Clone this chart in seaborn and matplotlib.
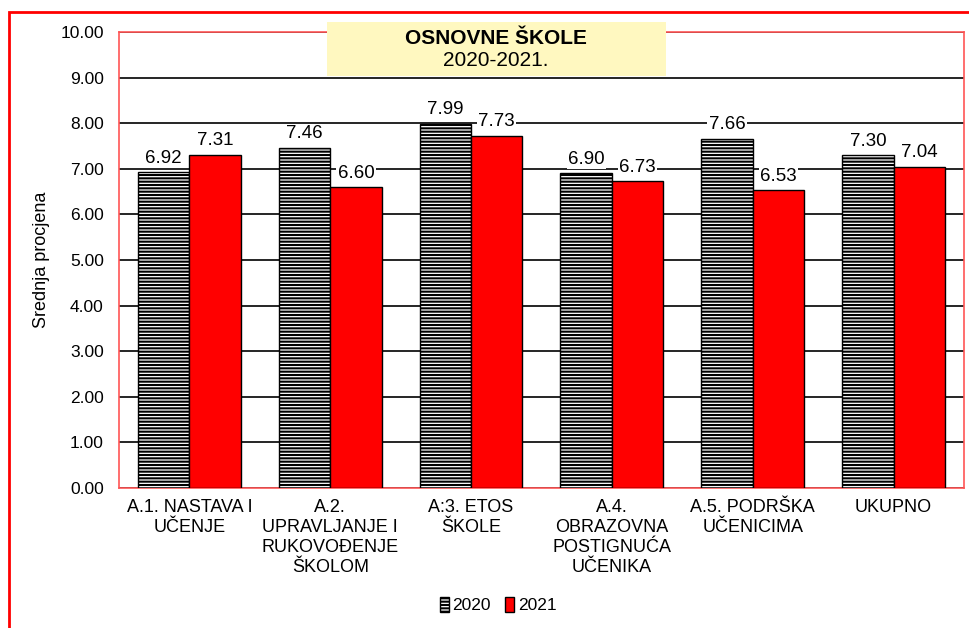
import matplotlib
matplotlib.use("Agg")
import matplotlib.pyplot as plt
from matplotlib.patches import Rectangle, Patch
import pandas as pd
import seaborn as sns

categories = [
    "A.1. NASTAVA I\nUČENJE",
    "A.2.\nUPRAVLJANJE I\nRUKOVOĐENJE\nŠKOLOM",
    "A:3. ETOS\nŠKOLE",
    "A.4.\nOBRAZOVNA\nPOSTIGNUĆA\nUČENIKA",
    "A.5. PODRŠKA\nUČENICIMA",
    "UKUPNO",
]
values_2020 = [6.92, 7.46, 7.99, 6.90, 7.66, 7.30]
values_2021 = [7.31, 6.60, 7.73, 6.73, 6.53, 7.04]
years = ["2020", "2021"]
y_ticks = [0, 1, 2, 3, 4, 5, 6, 7, 8, 9, 10]

df = pd.DataFrame({
    "kategorija": categories * 2,
    "godina": [years[0]] * len(categories) + [years[1]] * len(categories),
    "ocjena": values_2020 + values_2021,
})

sns.set_theme(style="white")
plt.rcParams["font.family"] = ["Liberation Sans", "DejaVu Sans"]
plt.rcParams["hatch.linewidth"] = 1.5
plt.rcParams["text.color"] = "black"
plt.rcParams["xtick.color"] = "black"
plt.rcParams["ytick.color"] = "black"
plt.rcParams["axes.labelcolor"] = "black"

RED = "#ff0000"
SPINE_RED = "#ff5555"

fig = plt.figure(figsize=(9.69, 6.28), dpi=100)
ax = fig.add_axes([0.1228, 0.2229, 0.8720, 0.7261])

sns.barplot(data=df, x="kategorija", y="ocjena", hue="godina",
            palette={"2020": "white", "2021": RED}, width=0.73, saturation=1,
            edgecolor="black", linewidth=1.0, legend=False, ax=ax, zorder=3)

# 2020 bars: white with dense horizontal hatching
for bar in ax.containers[0]:
    bar.set_hatch("-----")
    bar.set_facecolor("white")
    bar.set_edgecolor("black")

for cont in ax.containers:
    ax.bar_label(cont, fmt="%.2f", padding=4, fontsize=13.5, zorder=4,
                 bbox=dict(facecolor="white", edgecolor="none", pad=1.0))

ax.set_ylim(0, 10)
ax.set_yticks(y_ticks)
ax.set_yticklabels([f"{t:.2f}" for t in y_ticks], fontsize=12.5)
ax.yaxis.grid(True, color="black", linewidth=1.2, zorder=0)
ax.set_axisbelow(True)
ax.tick_params(axis="both", length=0)
ax.tick_params(axis="y", pad=11)
ax.tick_params(axis="x", pad=8)
plt.setp(ax.get_xticklabels(), fontsize=13, linespacing=1.22, va="top")
ax.set_xlabel("")
ax.set_ylabel("Srednja procjena", fontsize=13, labelpad=7)
for side in ["left", "right", "top", "bottom"]:
    ax.spines[side].set_color(SPINE_RED)
    ax.spines[side].set_linewidth(1.2)

# outer red frame (cut off at right and bottom)
fig.add_artist(Rectangle((9 / 969, -0.1), 1.2, 1.1 - 12 / 628, transform=fig.transFigure,
                         facecolor="none", edgecolor=RED, linewidth=2.0, clip_on=False))

# title box
fig.add_artist(Rectangle((327 / 969, 1 - 76 / 628), (666 - 327) / 969, 54 / 628,
                         transform=fig.transFigure, facecolor="#fff8c0",
                         edgecolor="none", zorder=5))
fig.text(0.512, 1 - 38 / 628, "OSNOVNE ŠKOLE", ha="center", va="center",
         fontsize=15, fontweight="bold", zorder=6)
fig.text(0.512, 1 - 60 / 628, "2020-2021.", ha="center", va="center",
         fontsize=15, zorder=6)

handles = [
    Patch(facecolor="white", edgecolor="black", hatch="-----", label=years[0]),
    Patch(facecolor=RED, edgecolor="black", label=years[1]),
]
fig.legend(handles=handles, loc="center", bbox_to_anchor=(0.514, 1 - 605 / 628),
           ncol=2, frameon=False, fontsize=12.5, handlelength=0.55, handleheight=1.0,
           handletextpad=0.2, columnspacing=0.8)

fig.savefig("out.png", dpi=100)
